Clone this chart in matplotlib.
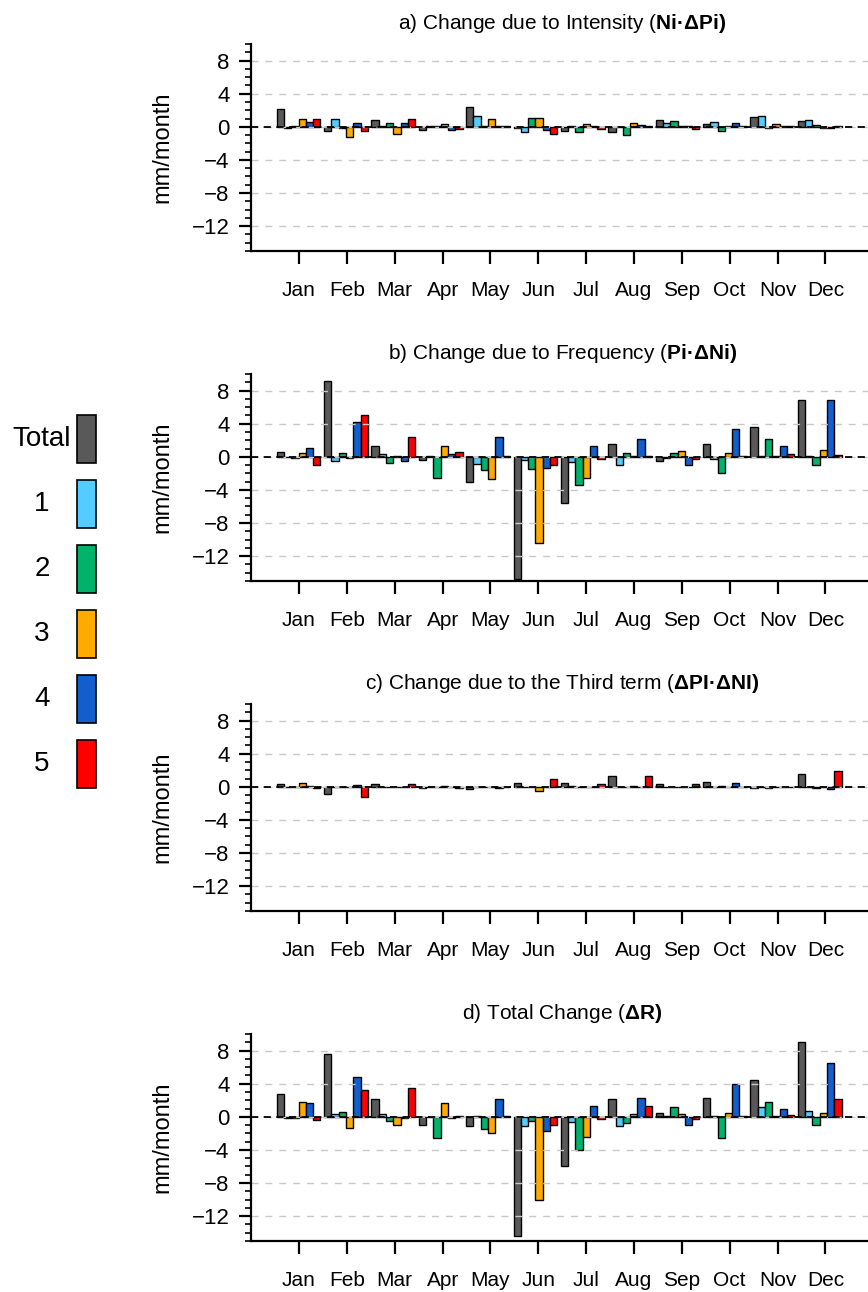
import numpy as np
import matplotlib
matplotlib.use("Agg")
import matplotlib.pyplot as plt
from matplotlib.patches import Rectangle

plt.rcParams['font.family'] = ['Liberation Sans', 'DejaVu Sans']
plt.rcParams['mathtext.fontset'] = 'custom'
plt.rcParams['mathtext.rm'] = 'Liberation Sans'
plt.rcParams['mathtext.bf'] = 'Liberation Sans:bold'

months = ['Jan', 'Feb', 'Mar', 'Apr', 'May', 'Jun',
          'Jul', 'Aug', 'Sep', 'Oct', 'Nov', 'Dec']
series = ['Total', '1', '2', '3', '4', '5']
colors = ['#595959', '#55ccff', '#00b26a', '#ffaa00', '#115ecc', '#ff0000']

# rows = months, columns = Total, 1, 2, 3, 4, 5  (mm/month)
intensity = [
    [2.1, -0.15, 0.05, 1.0, 0.55, 0.9],
    [-0.5, 1.0, -0.1, -1.2, 0.4, -0.45],
    [0.8, 0.05, 0.5, -0.85, 0.45, 0.9],
    [-0.35, 0.05, 0.15, 0.3, -0.35, -0.3],
    [2.4, 1.35, 0.1, 1.0, 0.05, 0.05],
    [-0.1, -0.6, 1.1, 1.1, -0.4, -0.9],
    [-0.55, 0.1, -0.65, 0.3, 0.05, -0.3],
    [-0.65, -0.05, -1.0, 0.45, 0.25, 0.05],
    [0.8, 0.45, 0.75, 0.05, 0.05, -0.25],
    [0.3, 0.55, -0.55, 0.05, 0.4, 0.1],
    [1.15, 1.3, -0.15, 0.3, 0.05, 0.05],
    [0.7, 0.85, 0.25, -0.1, -0.1, 0.05],
]
frequency = [
    [0.52, -0.05, -0.1, 0.5, 1.1, -1.0],
    [9.1, -0.45, 0.5, -0.1, 4.2, 5.0],
    [1.3, 0.35, -0.7, 0.05, -0.5, 2.35],
    [-0.4, 0.1, -2.6, 1.3, 0.3, 0.6],
    [-3.0, -0.9, -1.65, -2.7, 2.35, 0.05],
    [-14.75, -0.4, -1.5, -10.4, -1.3, -1.0],
    [-5.6, -0.65, -3.35, -2.55, 1.3, -0.3],
    [1.5, -1.0, 0.4, 0.05, 2.1, 0.15],
    [-0.45, -0.1, 0.5, 0.65, -0.95, -0.3],
    [1.5, -0.3, -1.95, 0.45, 3.4, 0.05],
    [3.65, 0.05, 2.1, 0.05, 1.25, 0.3],
    [6.9, 0.05, -0.95, 0.8, 6.9, 0.2],
]
third = [
    [0.28, 0.0, 0.0, 0.4, 0.1, -0.2],
    [-0.9, 0.0, 0.0, 0.0, 0.25, -1.2],
    [0.28, 0.0, -0.05, 0.0, 0.0, 0.35],
    [-0.1, 0.0, 0.0, 0.15, 0.0, -0.2],
    [-0.3, 0.0, 0.0, 0.0, -0.15, 0.0],
    [0.5, 0.0, 0.0, -0.55, 0.0, 1.0],
    [0.4, 0.1, 0.0, 0.0, 0.0, 0.35],
    [1.35, 0.0, 0.0, 0.1, 0.0, 1.3],
    [0.28, 0.0, 0.0, 0.0, 0.0, 0.3],
    [0.55, 0.0, 0.15, 0.0, 0.45, 0.0],
    [-0.2, 0.0, -0.15, 0.0, 0.0, 0.0],
    [1.5, 0.0, -0.1, 0.0, -0.3, 1.95],
]
total = [
    [2.75, -0.2, -0.1, 1.75, 1.7, -0.4],
    [7.6, 0.3, 0.6, -1.4, 4.75, 3.2],
    [2.2, 0.35, -0.5, -1.05, -0.1, 3.45],
    [-1.05, -0.05, -2.6, 1.65, -0.15, 0.05],
    [-1.15, 0.15, -1.5, -2.0, 2.2, 0.05],
    [-14.45, -1.1, -0.5, -10.1, -1.75, -1.05],
    [-5.95, -0.6, -4.0, -2.4, 1.35, -0.3],
    [2.1, -1.15, -0.8, 0.3, 2.3, 1.35],
    [0.5, 0.05, 1.15, 0.35, -0.95, -0.3],
    [2.25, 0.05, -2.5, 0.5, 4.0, 0.05],
    [4.5, 1.2, 1.75, 0.05, 1.0, 0.25],
    [9.0, 0.7, -0.95, 0.5, 6.45, 2.1],
]

titles = [
    'a) Change due to Intensity ($\\mathbf{Ni·ΔPi)}$',
    'b) Change due to Frequency ($\\mathbf{Pi·ΔNi)}$',
    'c) Change due to the Third term ($\\mathbf{ΔPI·ΔNI)}$',
    'd) Total Change ($\\mathbf{ΔR)}$',
]
panels = [intensity, frequency, third, total]

W, H = 868, 1292
fig = plt.figure(figsize=(W / 100, H / 100), dpi=100)

x = np.arange(1, 13)
bw = 0.1526
ax_left, ax_right = 251.2, 873.2
tops = [44, 374, 704, 1034]
ph = 207

for k in range(4):
    ax = fig.add_axes([ax_left / W, 1 - (tops[k] + ph) / H,
                       (ax_right - ax_left) / W, ph / H])
    vals = np.array(panels[k])
    for s in range(6):
        ax.bar(0.99 * x + (s - 2.5) * bw, vals[:, s], width=bw,
               color=colors[s], edgecolor='black', linewidth=1.0, zorder=1)
    ax.set_xlim(0, 13)
    ax.set_ylim(-15, 10)
    ax.set_xticks(x)
    ax.set_xticklabels(months)
    ax.set_yticks([-12, -8, -4, 0, 4, 8])
    ax.set_yticks(np.arange(-15, 11), minor=True)
    ax.yaxis.grid(True, color='#c8c8c8', linestyle=(0, (5, 5)), linewidth=1.0)
    ax.axhline(0, color='black', linestyle=(0, (4, 3)), linewidth=1.3, zorder=3)
    for sp in ['top', 'right']:
        ax.spines[sp].set_visible(False)
    for sp in ['left', 'bottom']:
        ax.spines[sp].set_linewidth(1.6)
    ax.tick_params(axis='x', which='major', direction='out', length=9.5,
                   width=1.6, labelsize=15, pad=12)
    ax.tick_params(axis='x', which='minor', length=0)
    ax.tick_params(axis='y', which='major', direction='out', length=8.5,
                   width=1.6, labelsize=16, pad=7)
    ax.tick_params(axis='y', which='minor', direction='out', length=4.5,
                   width=1.2)
    ax.set_ylabel('mm/month', fontsize=17, labelpad=13)
    ax.set_title(titles[k], fontsize=15, pad=11)

# legend column on the left
lax = fig.add_axes([0, 1 - 803 / H, 130 / W, 403 / H])
lax.set_xlim(0, 130)
lax.set_ylim(5.6, -0.6)
lax.axis('off')
for i, name in enumerate(series):
    lax.add_patch(Rectangle((77, i - 0.37), 19, 0.74, facecolor=colors[i],
                            edgecolor='black', linewidth=1.2))
    lax.text(42, i, name, ha='center', va='center', fontsize=20)

fig.savefig('out.png', dpi=100)
